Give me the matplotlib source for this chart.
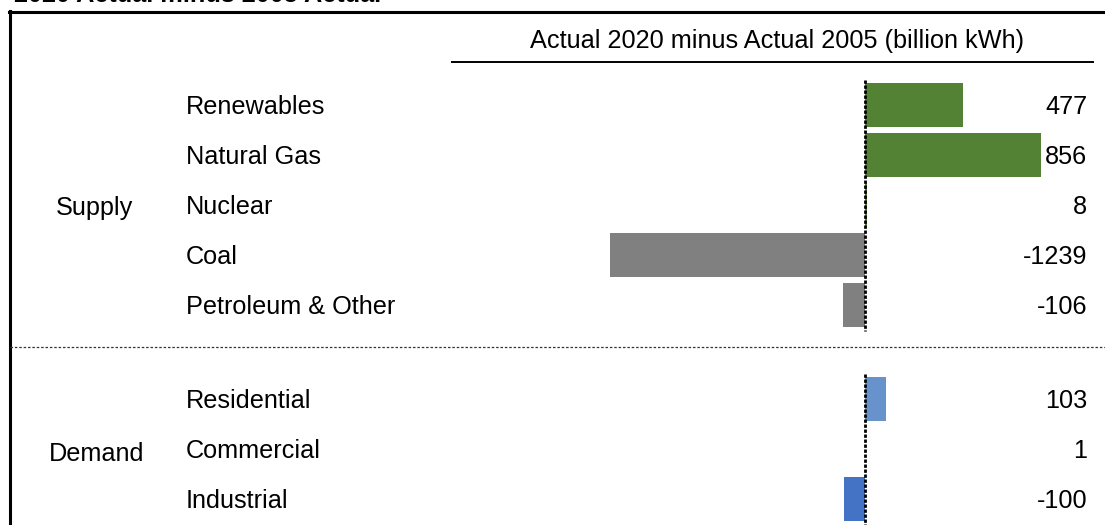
import matplotlib
matplotlib.use('Agg')
import matplotlib.pyplot as plt
from matplotlib.lines import Line2D

plt.rcParams['font.family'] = ['Liberation Sans', 'DejaVu Sans']

# data
supply_labels = ['Renewables', 'Natural Gas', 'Nuclear', 'Coal', 'Petroleum & Other']
supply_values = [477, 856, 8, -1239, -106]
supply_colors = ['#548235', '#548235', '#548235', '#808080', '#808080']

demand_labels = ['Residential', 'Commercial', 'Industrial']
demand_values = [103, 1, -100]
demand_colors = ['#6792CB', '#6792CB', '#4472C4']

title = '2020 Actual minus 2005 Actual'
header = 'Actual 2020 minus Actual 2005 (billion kWh)'

W, H = 1105, 525
fig = plt.figure(figsize=(W / 100, H / 100), dpi=100)

def fx(x):
    return x / W

def fy(y):
    return 1 - y / H

# bar axes spans whole figure; y in pixel rows, x in billion kWh
ax = fig.add_axes([0, 0, 1, 1])
zero_px = 865
scale = 176 / 856  # px per billion kWh
ax.set_xlim(-zero_px / scale, (W - zero_px) / scale)
ax.set_ylim(H, 0)
ax.axis('off')

row_step = 50
bar_h = 44
sup_y = [105 + row_step * i for i in range(len(supply_values))]
dem_y = [399 + row_step * i for i in range(len(demand_values))]

fs = 18.2
ax.barh(sup_y, supply_values, height=bar_h, color=supply_colors, zorder=2)
ax.barh(dem_y, demand_values, height=bar_h, color=demand_colors, zorder=2)

# dashed zero lines
ax.plot([0, 0], [80, 331], color='black', lw=2, ls=(0, (1.2, 0.6)), zorder=3)
ax.plot([0, 0], [374, 525], color='black', lw=2, ls=(0, (1.2, 0.6)), zorder=3)

for lab, val, y in zip(supply_labels + demand_labels,
                       supply_values + demand_values, sup_y + dem_y):
    fig.text(fx(186), fy(y + 2), lab, fontsize=fs, ha='left', va='center')
    fig.text(fx(1087), fy(y + 2), f'{val}', fontsize=fs, ha='right', va='center')

fig.text(fx(94), fy(208), 'Supply', fontsize=fs, ha='center', va='center')
fig.text(fx(97), fy(454), 'Demand', fontsize=fs, ha='center', va='center')

fig.text(fx(530), fy(41), header, fontsize=fs, ha='left', va='center')
fig.text(fx(14), fy(1.5), title, fontsize=fs, fontweight='bold', ha='left', va='baseline')

# frame lines
fig.add_artist(Line2D([fx(9), fx(W)], [fy(12), fy(12)], color='black', lw=2.2))
fig.add_artist(Line2D([fx(10), fx(10)], [fy(11), fy(H)], color='black', lw=2.2))
fig.add_artist(Line2D([fx(452), fx(1093)], [fy(62), fy(62)], color='black', lw=1.4))
fig.add_artist(Line2D([fx(10), fx(W)], [fy(347), fy(347)], color='#333333', lw=0.9,
                      ls=(0, (2, 1.5))))

fig.savefig('out.png', dpi=100)
